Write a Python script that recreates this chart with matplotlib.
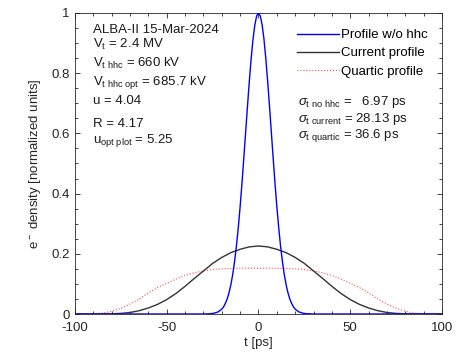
import numpy as np
import matplotlib
matplotlib.use("Agg")
import matplotlib.pyplot as plt
from matplotlib.ticker import MultipleLocator, FormatStrFormatter

matplotlib.rcParams.update(
    {
        "font.family": "Liberation Sans",
        "font.size": 9.5,
        "axes.unicode_minus": False,
        "mathtext.fontset": "custom",
        "mathtext.rm": "Liberation Sans",
        "mathtext.it": "Liberation Sans:italic",
        "mathtext.sf": "Liberation Sans",
    }
)

# half profiles (t >= 0), mirrored below
t_nohhc = [0, 1, 2, 3, 4, 5, 6, 7, 8, 9, 10, 11, 12, 13, 14, 15, 16, 17,
           18, 19, 20, 22, 24, 26, 30, 100]
rho_nohhc = [1.0, 0.990, 0.960, 0.912, 0.848, 0.773, 0.690, 0.604, 0.518,
             0.434, 0.357, 0.288, 0.227, 0.176, 0.133, 0.099, 0.072, 0.051,
             0.036, 0.024, 0.016, 0.007, 0.003, 0.001, 0.0, 0.0]

t_prof = [0, 5, 10, 15, 20, 25, 30, 35, 40, 45, 50, 55, 60, 65, 70, 75, 80,
          85, 90, 95, 100]
rho_current = [0.226, 0.223, 0.215, 0.204, 0.188, 0.168, 0.143, 0.118,
               0.092, 0.068, 0.048, 0.032, 0.020, 0.011, 0.005, 0.002,
               0.0005, 0.0, 0.0, 0.0, 0.0]
rho_quartic = [0.152, 0.152, 0.152, 0.151, 0.150, 0.148, 0.143, 0.137,
               0.128, 0.116, 0.102, 0.088, 0.070, 0.050, 0.033, 0.019,
               0.009, 0.003, 0.001, 0.0, 0.0]

info_left = [
    "ALBA-II 15-Mar-2024",
    r"V$_{\rm t}$ = 2.4 MV",
    r"V$_{\rm t\ hhc}$ = 660 kV",
    r"V$_{\rm t\ hhc\ opt}$ = 685.7 kV",
    "u = 4.04",
    "R = 4.17",
    r"u$_{\rm opt\ plot}$ = 5.25",
]
info_left_y = [0.934, 0.883, 0.822, 0.760, 0.698, 0.621, 0.568]

info_right = [
    r"$\sigma_{\rm t\ no\ hhc}$ =   6.97 ps",
    r"$\sigma_{\rm t\ current}$ = 28.13 ps",
    r"$\sigma_{\rm t\ quartic}$ = 36.6 ps",
]
info_right_y = [0.694, 0.639, 0.584]


def mirror(t, y):
    t = np.asarray(t, float)
    y = np.asarray(y, float)
    return np.concatenate([-t[:0:-1], t]), np.concatenate([y[:0:-1], y])


fig = plt.figure(figsize=(4.62, 3.58), dpi=100)
ax = fig.add_axes([0.1623, 0.1229, 0.7944, 0.8408])

tb, yb = mirror(t_nohhc, rho_nohhc)
tc, yc = mirror(t_prof, rho_current)
tq, yq = mirror(t_prof, rho_quartic)

ax.plot(tb, yb, color="#0000ff", lw=1.0, zorder=4, label="Profile w/o hhc")
ax.plot(tc, yc, color="#333333", lw=1.0, zorder=3, label="Current profile")
ax.plot(tq, yq, color="#ff0000", lw=0.8, ls=":", alpha=0.7, zorder=2,
        label="Quartic profile")

ax.set_xlim(-100, 100)
ax.set_ylim(0, 1)
ax.xaxis.set_major_locator(MultipleLocator(50))
ax.xaxis.set_minor_locator(MultipleLocator(10))
ax.yaxis.set_major_locator(MultipleLocator(0.2))
ax.yaxis.set_minor_locator(MultipleLocator(0.05))
ax.yaxis.set_major_formatter(FormatStrFormatter("%g"))
ax.tick_params(which="both", direction="in", top=True, right=True,
               colors="#262626", labelcolor="#262626", width=0.6)
ax.tick_params(which="major", length=3.5)
ax.tick_params(which="minor", length=2)
ax.tick_params(axis="x", which="major", pad=6)
ax.tick_params(axis="y", which="major", pad=4)
for s in ax.spines.values():
    s.set_color("#262626")
    s.set_linewidth(0.6)

ax.set_xlabel("t [ps]", color="#262626", labelpad=2)
ax.set_ylabel(r"e$^{\rm -}$ density [normalized units]", color="#262626",
              labelpad=6)

for txt, yy in zip(info_left, info_left_y):
    ax.text(-90.2, yy, txt, va="baseline", ha="left", color="#1a1a1a")
for txt, yy in zip(info_right, info_right_y):
    ax.text(21.7, yy, txt, va="baseline", ha="left", color="#1a1a1a")

ax.legend(loc="upper left", bbox_to_anchor=(0.604, 0.947), frameon=False,
          borderpad=0, borderaxespad=0, handlelength=3.2, handletextpad=0.15,
          labelspacing=0.45)

fig.savefig("out.png", dpi=100)
